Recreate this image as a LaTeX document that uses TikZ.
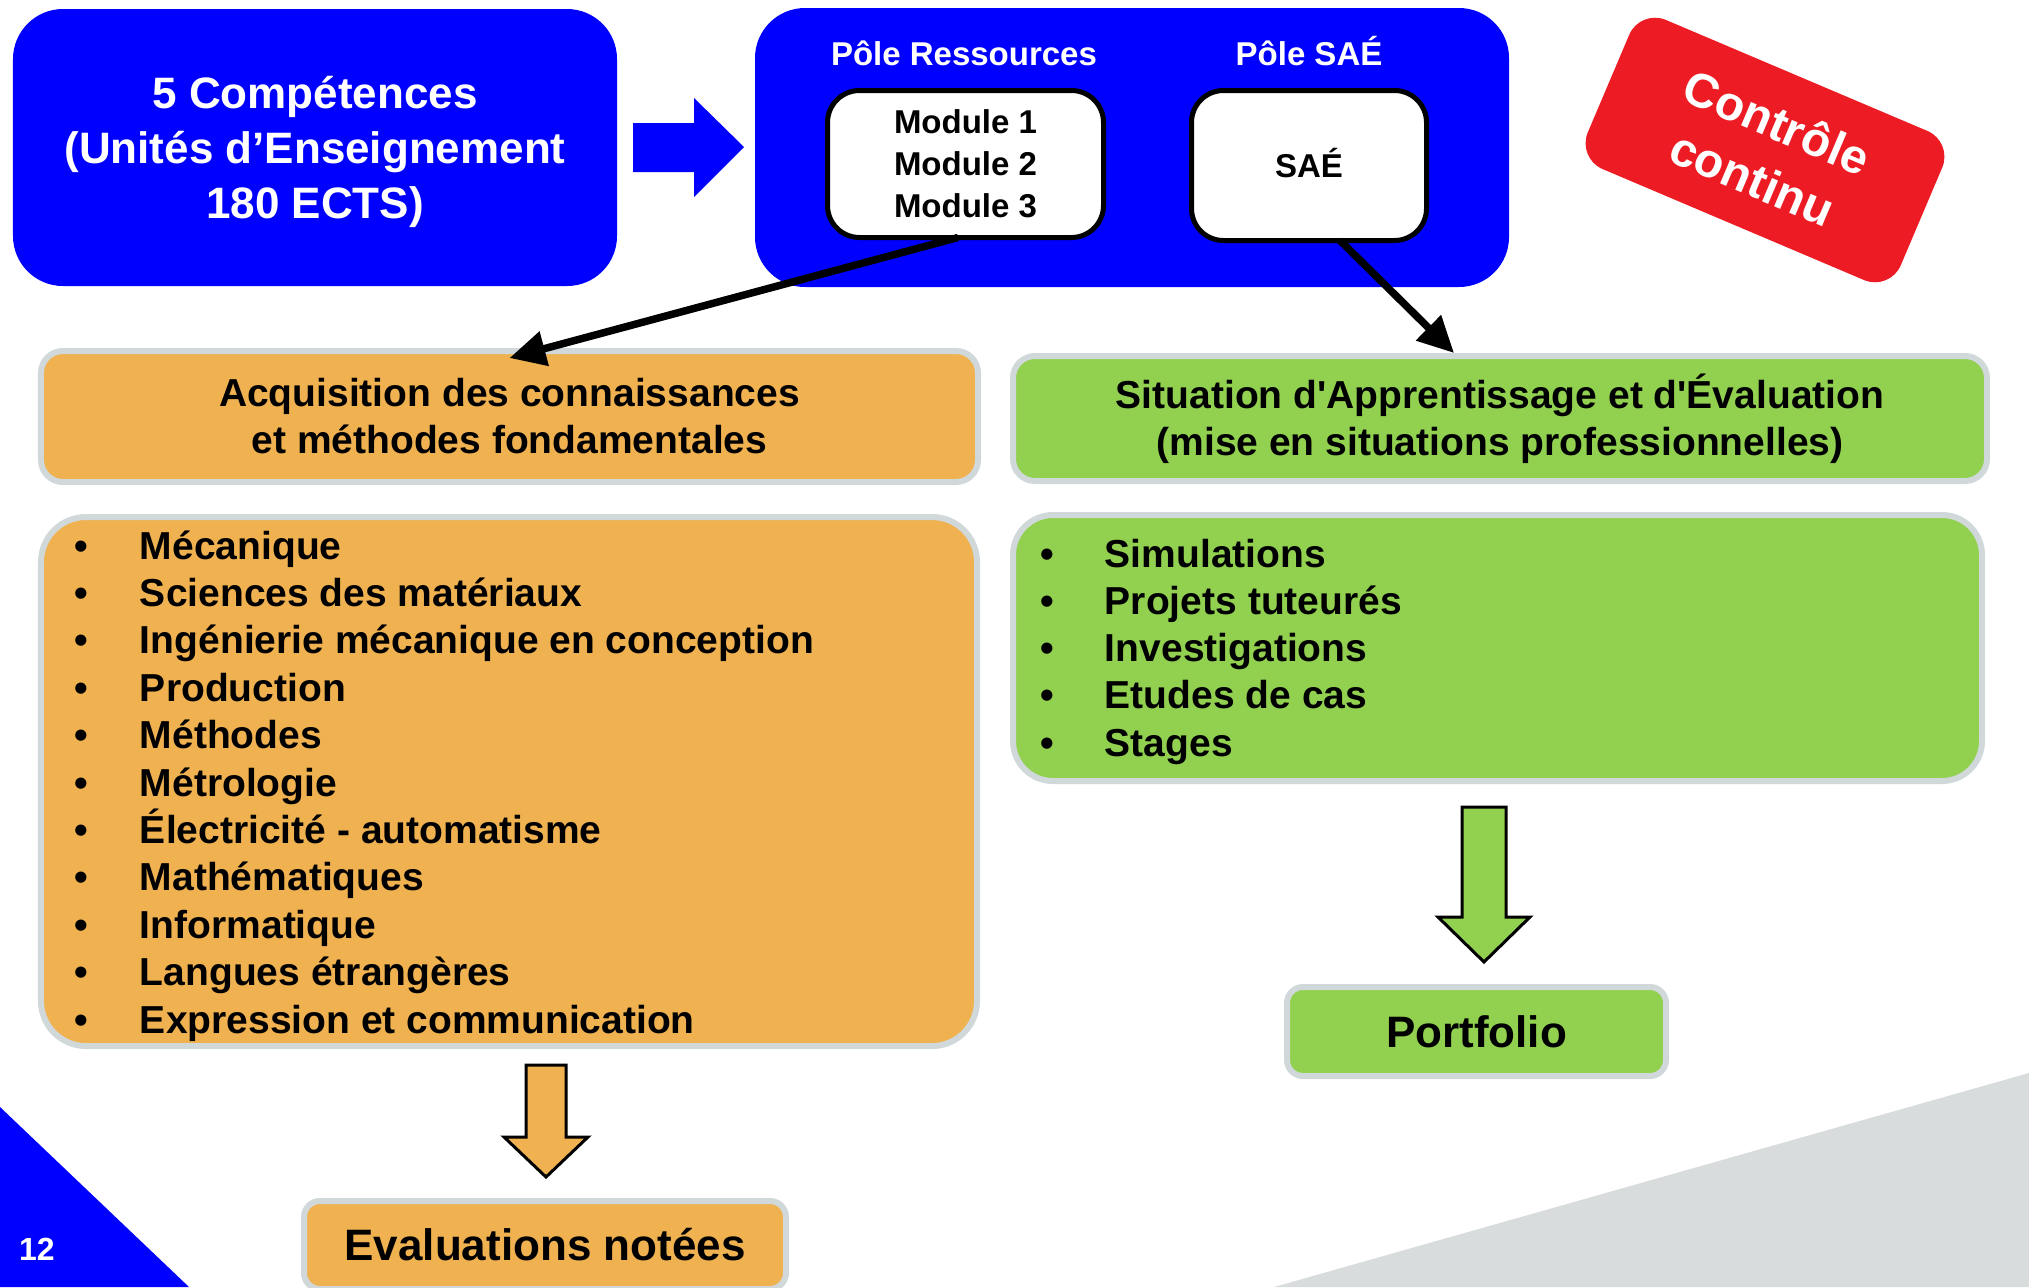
\documentclass[tikz,border=0pt]{standalone}
\usepackage{fontspec}
\setmainfont{Liberation Sans}[Ligatures=TeXOff]
\usetikzlibrary{arrows.meta}
\definecolor{pblue}{RGB}{0,0,255}
\definecolor{porange}{RGB}{240,178,80}
\definecolor{pgreen}{RGB}{146,208,80}
\definecolor{pgray}{RGB}{208,216,218}
\definecolor{pred}{RGB}{237,28,36}
\definecolor{tgray}{RGB}{217,220,221}
\newcommand{\fs}[2]{\fontsize{#1bp}{#2bp}\selectfont\bfseries}
\begin{document}
\begin{tikzpicture}[x=1bp,y=-1bp,
  every node/.style={inner sep=0pt, outer sep=0pt},
  bluebox/.style={fill=pblue, rounded corners=50bp, text=white, align=center},
  whitebox/.style={fill=white, draw=black, line width=5bp, rounded corners=32bp, align=center, font=\fs{33}{42}},
  obox/.style={fill=porange, draw=pgray, line width=6bp, align=center},
  gbox/.style={fill=pgreen, draw=pgray, line width=6bp, align=center},
  listitem/.style={anchor=base west, font=\fs{39}{47}},
  blockarrow/.style={draw=black, line width=3bp, line join=miter},
  conn/.style={line width=7.5bp, -{Triangle[length=36bp,width=34bp]}}
]
\useasboundingbox (0,0) rectangle (2029,1287);

% background triangles
\fill[tgray] (1274,1287) -- (2029,1073) -- (2029,1287) -- cycle;
\fill[pblue] (0,1107) -- (189,1287) -- (0,1287) -- cycle;
\node[anchor=base west, text=white, font=\fs{32}{38}] (pg) at (19,1260) {12};

% top row
\node[bluebox, minimum width=604bp, minimum height=277bp, font=\fs{44}{55}] (comp) at (315,147.5) {};
\node[text=white, align=center, font=\fs{44}{55}] (comptxt) at (comp.center) [yshift=-4bp]
  {5 Compétences\\(Unités d’Enseignement\\180 ECTS)};
\node[fill=pblue, minimum width=754bp, minimum height=279bp, rounded corners=50bp] (pole) at (1132,147.5) {};
\fill[pblue] (633,123) -- (694,123) -- (694,98) -- (744,147) -- (694,197) -- (694,172) -- (633,172) -- cycle;
\node[anchor=base, text=white, font=\fs{33}{40}] (pres) at (964,65) {Pôle Ressources};
\node[anchor=base, text=white, font=\fs{33}{40}] (psae) at (1309,65) {Pôle SAÉ};
\node[whitebox, minimum width=276bp, minimum height=147bp] (mod) at (965.5,164) {Module 1\\Module 2\\Module 3};
\node[whitebox, minimum width=235bp, minimum height=150bp] (sae) at (1309,165.5) {};
\node[font=\fs{33}{42}] (saetxt) at (1309,163) {SAÉ};

% red tag
\node[fill=pred, rotate=-23, minimum width=340bp, minimum height=162bp, rounded corners=28bp,
  text=white, align=center, font=\fs{48}{61}] (cc) at (1765,150) {Contrôle\\continu};

% headers
\node[obox, minimum width=937bp, minimum height=131bp, rounded corners=22bp, font=\fs{39}{47}] (acq) at (509.5,416.5)
  {Acquisition des connaissances\\et méthodes fondamentales};
\node[gbox, minimum width=974bp, minimum height=125bp, rounded corners=22bp, font=\fs{39}{47}] (sah) at (1500,418.5)
  {Situation d'Apprentissage et d'Évaluation\\(mise en situations professionnelles)};

% list boxes
\node[obox, minimum width=936bp, minimum height=529bp, rounded corners=45bp] (olist) at (509,781.5) {};
\node[gbox, minimum width=969bp, minimum height=266bp, rounded corners=40bp] (glist) at (1497.5,648) {};

\foreach \t [count=\i from 0] in {Mécanique, Sciences des matériaux, Ingénierie mécanique en conception, Production, Méthodes, Métrologie, Électricité - automatisme, Mathématiques, Informatique, Langues étrangères, Expression et communication}
  \node[listitem] (o\i) at (74,559+47.4*\i) {\makebox[66bp][l]{•}\t};
\foreach \t [count=\i from 0] in {Simulations, Projets tuteurés, Investigations, Etudes de cas, Stages}
  \node[listitem] (g\i) at (1040,567+47.3*\i) {\makebox[65bp][l]{•}\t};

% bottom boxes
\node[obox, minimum width=482bp, minimum height=88bp, rounded corners=16bp, font=\fs{44}{52}] (eval) at (545,1245) {Evaluations notées};
\node[gbox, minimum width=379bp, minimum height=89bp, rounded corners=16bp, font=\fs{44}{52}] (port) at (1476.5,1031.5) {Portfolio};

% block arrows
\filldraw[blockarrow, fill=porange] (526,1065) -- (566,1065) -- (566,1137) -- (588,1137) -- (546,1177) -- (504,1137) -- (526,1137) -- cycle;
\filldraw[blockarrow, fill=pgreen] (1462,807) -- (1506,807) -- (1506,917) -- (1530,917) -- (1484,962) -- (1438,917) -- (1462,917) -- cycle;

% connectors
\draw[conn] ([xshift=-7.5bp]mod.south) -- ([yshift=-7bp]acq.north);
\draw[conn] ([xshift=31bp]sae.south) -- ([xshift=-46bp,yshift=3bp]sah.north);
\end{tikzpicture}
\end{document}
